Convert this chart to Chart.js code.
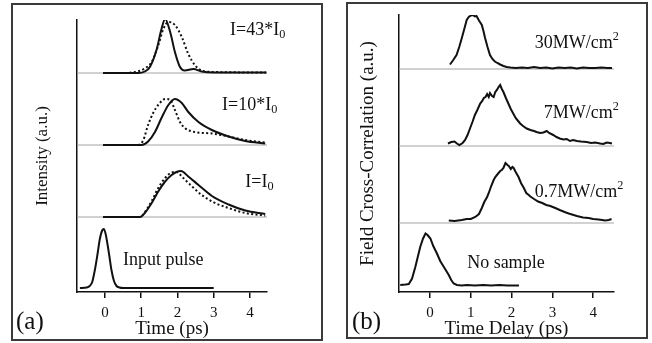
<!DOCTYPE html>
<html><head><meta charset="utf-8">
<script src="https://cdn.jsdelivr.net/npm/chart.js@4.4.1/dist/chart.umd.min.js"></script>
<style>
html,body{margin:0;padding:0;background:#fff;}
body{width:652px;height:343px;position:relative;overflow:hidden;}
.frame{position:absolute;border:2px solid #3a3a3a;box-sizing:border-box;}
canvas{position:absolute;top:0;}
</style></head><body>
<div class="frame" style="left:11px;top:3px;width:312px;height:338px"></div>
<div class="frame" style="left:346px;top:2px;width:302px;height:337px"></div>
<canvas id="ca" width="330" height="343" style="left:0px"></canvas>
<canvas id="cb" width="322" height="343" style="left:330px"></canvas>
<script>
// ---------- shared ----------
const xTicks = [0, 1, 2, 3, 4];

// ---------- panel (a): Intensity (a.u.) vs Time (ps) ----------
const tInput = [-0.69,-0.5,-0.42,-0.35,-0.28,-0.21,-0.14,-0.07,-0.03,0.02,0.07,0.12,0.18,0.25,0.32,0.4,0.5,1.0,2.0,3.0];
const inputPulse = [0,0.01,0.04,0.12,0.35,0.65,0.98,1.16,1.18,1.08,0.88,0.65,0.36,0.14,0.04,0.01,0,0,0,0];

const tI1s = [-0.05,0.5,0.97,1.1,1.29,1.47,1.66,1.84,1.97,2.1,2.3,2.58,2.95,3.41,3.87,4.42];
const I1solid = [0,0,0,0.08,0.28,0.51,0.71,0.84,0.9,0.92,0.81,0.64,0.42,0.25,0.13,0.06];
const tI1d = [-0.05,0.5,0.97,1.1,1.29,1.47,1.66,1.84,1.97,2.16,2.39,2.67,3.04,3.41,3.87,4.42];
const I1dotted = [0,0,0,0.1,0.32,0.58,0.78,0.89,0.9,0.78,0.62,0.44,0.28,0.18,0.08,0.03];

const tI10s = [-0.05,0.5,1.01,1.19,1.38,1.56,1.75,1.93,2.12,2.3,2.58,2.95,3.41,3.87,4.42];
const I10solid = [0,0,0,0.07,0.26,0.54,0.8,0.92,0.84,0.66,0.46,0.3,0.17,0.08,0.03];
const tI10d = [-0.05,0.5,0.92,1.06,1.19,1.33,1.47,1.66,1.8,1.93,2.07,2.2,2.48,2.95,3.41,3.87,4.42];
const I10dotted = [0,0,0,0.1,0.4,0.64,0.8,0.92,0.9,0.7,0.46,0.34,0.26,0.23,0.17,0.1,0.05];

const tI43s = [-0.05,0.5,0.92,1.1,1.24,1.43,1.56,1.66,1.8,1.93,2.07,2.2,2.44,2.67,3.0,4.45];
const I43solid = [0,0,0,0.03,0.12,0.48,0.88,1.08,0.82,0.42,0.12,0.05,0.08,0.03,0.01,0.01];
const tI43d = [-0.05,0.5,0.83,1.1,1.29,1.47,1.61,1.75,1.93,2.12,2.3,2.49,2.67,3.0,4.45];
const I43dotted = [0,0,0.02,0.09,0.22,0.55,0.88,1.02,0.96,0.72,0.38,0.15,0.05,0.02,0.01];

// ---------- panel (b): Field Cross-Correlation (a.u.) vs Time Delay (ps) ----------
const tNoSample = [-0.73,-0.6,-0.52,-0.44,-0.36,-0.3,-0.24,-0.17,-0.11,-0.06,0.01,0.08,0.17,0.25,0.34,0.4,0.46,0.52,0.58,0.66,0.78,0.9,1.1,1.3,1.5,1.7,1.9,2.18];
const noSample = [0.02,0.03,0.04,0.15,0.38,0.58,0.78,0.95,1.05,1.02,0.95,0.8,0.65,0.5,0.38,0.3,0.22,0.12,0.05,0.02,0.01,0.02,0.01,0.02,0.01,0.02,0.01,0.01];

const t07 = [0.46,0.6,0.78,0.9,1.0,1.11,1.2,1.27,1.33,1.4,1.44,1.5,1.56,1.6,1.66,1.72,1.76,1.8,1.85,1.9,1.93,1.98,2.02,2.05,2.1,2.17,2.23,2.3,2.36,2.42,2.46,2.55,2.65,2.75,2.85,2.95,3.07,3.18,3.3,3.4,3.48,3.6,3.75,3.89,4.0,4.13,4.22,4.29,4.38,4.45];
const mw07 = [0.05,0.04,0.06,0.08,0.08,0.12,0.18,0.3,0.42,0.52,0.6,0.74,0.86,0.92,0.98,1.04,1.06,1.1,1.2,1.16,1.14,1.08,1.12,1.1,1.02,0.92,0.8,0.7,0.6,0.56,0.53,0.48,0.43,0.4,0.36,0.34,0.3,0.26,0.22,0.19,0.17,0.14,0.11,0.1,0.08,0.07,0.06,0.05,0.06,0.08];

const t7 = [0.44,0.52,0.6,0.66,0.72,0.8,0.86,0.92,0.98,1.04,1.1,1.16,1.23,1.28,1.32,1.36,1.4,1.44,1.47,1.52,1.56,1.6,1.64,1.68,1.72,1.76,1.8,1.86,1.92,1.98,2.04,2.1,2.16,2.21,2.28,2.37,2.46,2.55,2.61,2.7,2.78,2.86,2.92,3.02,3.1,3.18,3.27,3.35,3.43,3.51,3.6,3.7,3.84,3.95,4.05,4.17,4.25,4.33,4.41,4.46];
const mw7 = [0.05,0.08,0.09,0.05,0.02,0.06,0.12,0.22,0.35,0.48,0.62,0.72,0.85,0.9,0.96,0.98,1.04,0.98,1.06,1.0,0.98,1.08,1.12,1.18,1.22,1.14,1.08,0.96,0.85,0.74,0.65,0.56,0.5,0.45,0.4,0.35,0.32,0.3,0.28,0.26,0.27,0.3,0.26,0.22,0.18,0.15,0.13,0.14,0.1,0.12,0.1,0.09,0.08,0.06,0.07,0.05,0.04,0.07,0.06,0.05];

const t30 = [0.49,0.57,0.65,0.72,0.78,0.84,0.9,0.95,1.0,1.05,1.1,1.14,1.2,1.27,1.31,1.35,1.41,1.47,1.53,1.59,1.65,1.72,1.8,1.88,1.97,2.1,2.25,2.4,2.55,2.7,2.85,3.0,3.15,3.3,3.45,3.6,3.75,3.9,4.05,4.2,4.35,4.46];
const mw30 = [0.09,0.18,0.28,0.45,0.62,0.8,0.98,1.04,1.07,1.08,1.05,1.06,0.97,0.88,0.76,0.62,0.44,0.28,0.2,0.15,0.12,0.09,0.06,0.04,0.03,0.02,0.03,0.02,0.04,0.02,0.03,0.01,0.03,0.02,0.03,0.01,0.03,0.02,0.02,0.03,0.02,0.02];

// ---------- layout / styling (not data) ----------
const SERIF = '"Liberation Serif", "Times New Roman", serif';
const INK = '#111';

function pts(t, v, off) { return t.map((x, i) => ({ x: x, y: v[i] + off })); }
function solid(t, v, off, smooth) {
  return { data: pts(t, v, off), borderColor: INK, borderWidth: 2, pointRadius: 0,
           cubicInterpolationMode: smooth ? 'monotone' : 'default', tension: 0 };
}
function dotted(t, v, off) {
  return { data: pts(t, v, off), borderColor: INK, borderWidth: 2, borderDash: [2, 2.4],
           pointRadius: 0, cubicInterpolationMode: 'monotone' };
}
function baseLine(x0, x1, off) {
  return { data: [{ x: x0, y: off }, { x: x1, y: off }], borderColor: '#a4a4a4', borderWidth: 1, pointRadius: 0 };
}

function drawRich(ctx, parts, x, y, size) {
  let cx = x;
  ctx.textBaseline = 'middle';
  ctx.textAlign = 'left';
  for (const p of parts) {
    const small = p.sub || p.sup;
    const s = small ? size * 0.68 : size;
    ctx.font = s + 'px ' + SERIF;
    const dy = p.sub ? size * 0.28 : (p.sup ? -size * 0.36 : 0);
    ctx.fillText(p.t, cx, y + dy);
    cx += ctx.measureText(p.t).width;
  }
}

function annotPlugin(labels, letter) {
  return {
    id: 'annot',
    afterDraw(chart) {
      const ctx = chart.ctx, xs = chart.scales.x, ys = chart.scales.y;
      ctx.save();
      ctx.fillStyle = INK;
      for (const L of labels) {
        drawRich(ctx, L.parts, xs.getPixelForValue(L.at[0]), ys.getPixelForValue(L.at[1]), L.size);
      }
      ctx.font = letter.size + 'px ' + SERIF;
      ctx.textBaseline = 'middle';
      ctx.fillText(letter.text, letter.pos[0], letter.pos[1]);
      ctx.restore();
    }
  };
}

function makeChart(id, cfg) {
  return new Chart(document.getElementById(id), {
    type: 'line',
    data: { datasets: cfg.datasets },
    plugins: [annotPlugin(cfg.labels, cfg.letter)],
    options: {
      responsive: false, animation: false, devicePixelRatio: 1,
      layout: { padding: { left: 0, right: cfg.padRight, top: cfg.padTop, bottom: 0 } },
      plugins: { legend: { display: false }, tooltip: { enabled: false } },
      scales: {
        x: {
          type: 'linear', min: cfg.xmin, max: cfg.xmax,
          afterBuildTicks: ax => { ax.ticks = xTicks.map(v => ({ value: v })); },
          afterFit: ax => { ax.height = cfg.xAxisH; },
          grid: { drawOnChartArea: false, drawTicks: true, tickLength: 6, color: INK, lineWidth: 1.5 },
          border: { display: true, color: INK, width: 1.5 },
          ticks: { color: INK, font: { family: SERIF, size: 15 }, padding: 6, maxRotation: 0, autoSkip: false },
          title: { display: true, text: cfg.xTitle, color: INK, font: { family: SERIF, size: 19 },
                   padding: { top: 0, bottom: cfg.xTitlePad } }
        },
        y: {
          type: 'linear', min: 0, max: cfg.ymax,
          afterFit: ax => { ax.width = cfg.yAxisW; },
          grid: { drawOnChartArea: false, drawTicks: false },
          border: { display: true, color: INK, width: 1.5 },
          ticks: { display: false },
          title: { display: true, text: cfg.yTitle, color: INK, font: { family: SERIF, size: cfg.yTitleSize },
                   padding: { top: cfg.yTitlePad, bottom: 0 } }
        }
      }
    }
  });
}

// panel (a)
const xminA = -0.77, xmaxA = 4.47;
const offA = { input: 0.08, I1: 1.5, I10: 2.94, I43: 4.38 };
makeChart('ca', {
  xmin: xminA, xmax: xmaxA, ymax: 5.44,
  padTop: 20, padRight: 63, yAxisW: 77, xAxisH: 51,
  xTitle: 'Time (ps)', xTitlePad: 3,
  yTitle: 'Intensity (a.u.)', yTitleSize: 17, yTitlePad: 32,
  datasets: [
    solid(tInput, inputPulse, offA.input, true),
    solid(tI1s, I1solid, offA.I1, true), dotted(tI1d, I1dotted, offA.I1),
    solid(tI10s, I10solid, offA.I10, true), dotted(tI10d, I10dotted, offA.I10),
    solid(tI43s, I43solid, offA.I43, true), dotted(tI43d, I43dotted, offA.I43),
    baseLine(xminA, xmaxA, offA.I1), baseLine(xminA, xmaxA, offA.I10), baseLine(xminA, xmaxA, offA.I43)
  ],
  labels: [
    { parts: [{ t: 'I=43*I' }, { t: '0', sub: true }], at: [3.45, 5.24], size: 18 },
    { parts: [{ t: 'I=10*I' }, { t: '0', sub: true }], at: [3.23, 3.74], size: 18 },
    { parts: [{ t: 'I=I' }, { t: '0', sub: true }], at: [3.87, 2.2], size: 18 },
    { parts: [{ t: 'Input pulse' }], at: [0.5, 0.64], size: 18 }
  ],
  letter: { text: '(a)', pos: [16, 322], size: 25 }
});

// panel (b)
const xminB = -0.76, xmaxB = 4.51;
const offB = { none: 0.12, mw07: 1.38, mw7: 2.92, mw30: 4.46 };
makeChart('cb', {
  xmin: xminB, xmax: xmaxB, ymax: 5.54,
  padTop: 15, padRight: 38, yAxisW: 69, xAxisH: 51,
  xTitle: 'Time Delay (ps)', xTitlePad: 3,
  yTitle: 'Field Cross-Correlation (a.u.)', yTitleSize: 19, yTitlePad: 27,
  datasets: [
    solid(tNoSample, noSample, offB.none, false),
    solid(t07, mw07, offB.mw07, false),
    solid(t7, mw7, offB.mw7, false),
    solid(t30, mw30, offB.mw30, false),
    baseLine(xminB, xmaxB, offB.mw07), baseLine(xminB, xmaxB, offB.mw7), baseLine(xminB, xmaxB, offB.mw30)
  ],
  labels: [
    { parts: [{ t: '30MW/cm' }, { t: '2', sup: true }], at: [2.57, 4.98], size: 18 },
    { parts: [{ t: '7MW/cm' }, { t: '2', sup: true }], at: [2.79, 3.58], size: 18 },
    { parts: [{ t: '0.7MW/cm' }, { t: '2', sup: true }], at: [2.57, 2.0], size: 18 },
    { parts: [{ t: 'No sample' }], at: [0.91, 0.58], size: 18 }
  ],
  letter: { text: '(b)', pos: [22, 322], size: 25 }
});
</script>
</body></html>
